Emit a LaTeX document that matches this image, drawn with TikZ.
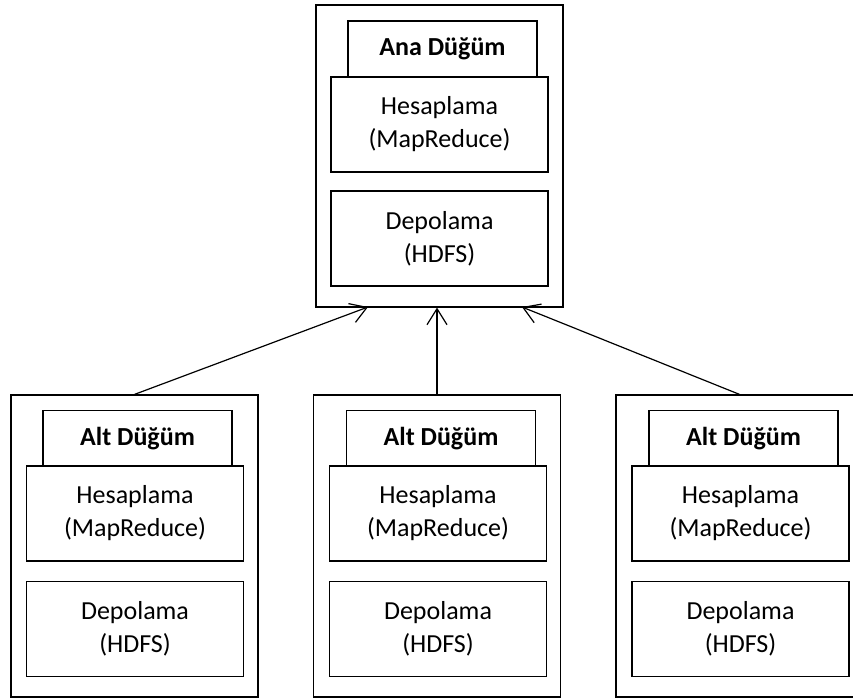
\documentclass[tikz,border=0pt]{standalone}
\usepackage{fontspec}
\setmainfont{Carlito}
\usetikzlibrary{arrows.meta}

\tikzset{
  kutu/.style={draw=black, line width=1.2pt, minimum width=247pt, minimum height=302pt},
  baslik/.style={draw=black, line width=1.2pt, minimum width=189pt, minimum height=56pt,
    font=\fontsize{26}{33}\selectfont\bfseries},
  parca/.style={draw=black, line width=1.2pt, minimum width=217pt, minimum height=95pt,
    align=center, font=\fontsize{26}{33}\selectfont},
  ok/.style={line width=1.2pt, -{Straight Barb[length=16pt,width=20pt]}}
}

\begin{document}
\begin{tikzpicture}[x=1pt,y=-1pt]
      \clip (0,0) rectangle (853,700);

      % ana dugum
      \node[kutu](ana) at (439.5,156.0){};
      \node[baslik](anaB) at (442.5, 49.0){Ana Düğüm};
      \node[parca](anaH) at (439.5,124.5){Hesaplama\\(MapReduce)};
      \node[parca](anaD) at (439.5,238.5){Depolama\\(HDFS)};

      % alt dugumler
      \node[kutu](alt1) at (134.5,546.0){};
      \node[baslik](alt1B) at (137.5,438.5){Alt Düğüm};
      \node[parca](alt1H) at (135.0,513.5){Hesaplama\\(MapReduce)};
      \node[parca](alt1D) at (135.0,629.0){Depolama\\(HDFS)};

      \node[kutu](alt2) at (437.0,546.0){};
      \node[baslik](alt2B) at (441.0,438.5){Alt Düğüm};
      \node[parca](alt2H) at (438.0,513.5){Hesaplama\\(MapReduce)};
      \node[parca](alt2D) at (438.0,629.0){Depolama\\(HDFS)};

      \node[kutu](alt3) at (739.5,546.0){};
      \node[baslik](alt3B) at (743.5,438.5){Alt Düğüm};
      \node[parca](alt3H) at (740.5,513.5){Hesaplama\\(MapReduce)};
      \node[parca](alt3D) at (740.5,629.0){Depolama\\(HDFS)};

      % baglantilar
      \coordinate (giris1) at (368,307);
      \coordinate (giris3) at (522,307);
      \draw[ok] (alt1.north) -- (giris1);
      \draw[ok] (alt2.north) -- (alt2.north |- ana.south);
      \draw[ok] (alt3.north) -- (giris3);
\end{tikzpicture}
\end{document}
